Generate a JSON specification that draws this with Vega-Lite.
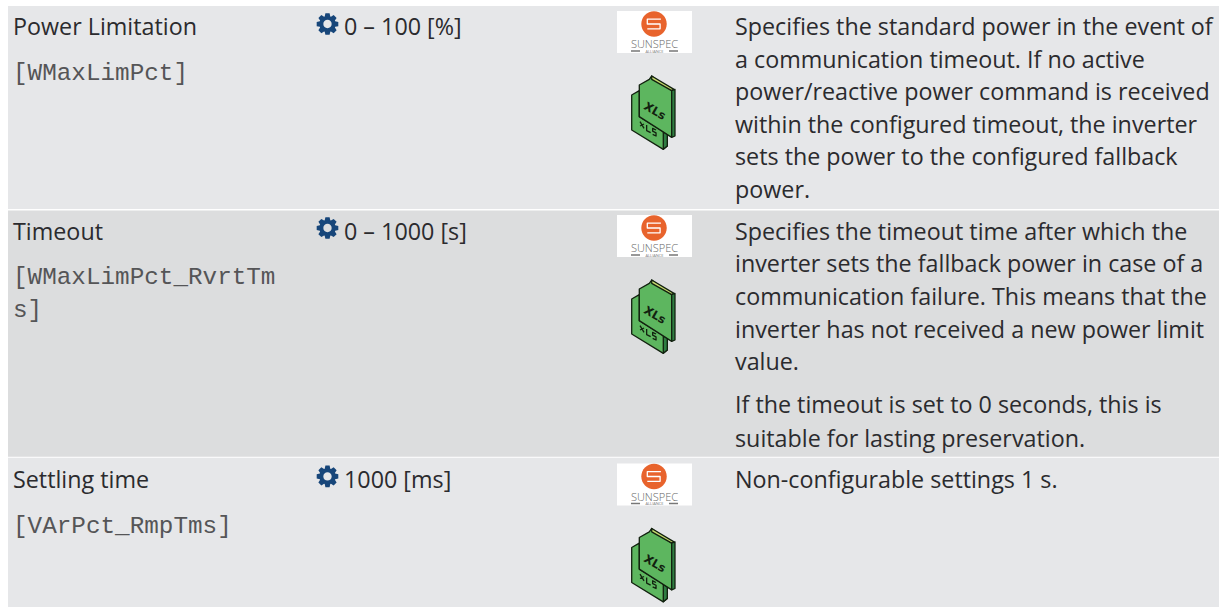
{
"$schema":"https://vega.github.io/schema/vega-lite/v6.json",
"width":1232,"height":607,"autosize":{"type":"fit","contains":"padding"},"padding":0,"background":"white",
"config":{"view":{"stroke":null}},
"datasets":{
"bands":[
{"from":0,"to":6,"top":-0.89,"bottom":5.34,"shade":"light"},
{"from":0,"to":6,"top":5.38,"bottom":12.94,"shade":"dark"},
{"from":0,"to":6,"top":12.97,"bottom":17.546,"shade":"light"}],
"gears":[{"column":2,"line":-0.337},{"column":2,"line":5.92},{"column":2,"line":13.54}],
"parts":[
{"line":1.38,"part":"logo_bg"},{"line":1.38,"part":"logo_circle"},{"line":1.38,"part":"logo_s"},{"line":1.38,"part":"logo_rule"},{"line":1.38,"part":"back"},{"line":1.38,"part":"back_side"},{"line":1.38,"part":"back_text"},{"line":1.38,"part":"front"},{"line":1.38,"part":"strip"},{"line":1.38,"part":"side"},
{"line":7.638,"part":"logo_bg"},{"line":7.638,"part":"logo_circle"},{"line":7.638,"part":"logo_s"},{"line":7.638,"part":"logo_rule"},{"line":7.638,"part":"back"},{"line":7.638,"part":"back_side"},{"line":7.638,"part":"back_text"},{"line":7.638,"part":"front"},{"line":7.638,"part":"strip"},{"line":7.638,"part":"side"},
{"line":15.26,"part":"logo_bg"},{"line":15.26,"part":"logo_circle"},{"line":15.26,"part":"logo_s"},{"line":15.26,"part":"logo_rule"},{"line":15.26,"part":"back"},{"line":15.26,"part":"back_side"},{"line":15.26,"part":"back_text"},{"line":15.26,"part":"front"},{"line":15.26,"part":"strip"},{"line":15.26,"part":"side"}],
"sans":[
{"column":1,"line":0,"text":"Power Limitation"},
{"column":3,"line":0,"text":"0 – 100 [%]"},
{"column":5,"line":0,"text":"Specifies the standard power in the event of"},
{"column":5,"line":1,"text":"a communication timeout. If no active"},
{"column":5,"line":2,"text":"power/reactive power command is received"},
{"column":5,"line":3,"text":"within the configured timeout, the inverter"},
{"column":5,"line":4,"text":"sets the power to the configured fallback"},
{"column":5,"line":5,"text":"power."},
{"column":1,"line":6.29,"text":"Timeout"},
{"column":3,"line":6.29,"text":"0 – 1000 [s]"},
{"column":5,"line":6.29,"text":"Specifies the timeout time after which the"},
{"column":5,"line":7.27,"text":"inverter sets the fallback power in case of a"},
{"column":5,"line":8.28,"text":"communication failure. This means that the"},
{"column":5,"line":9.29,"text":"inverter has not received a new power limit"},
{"column":5,"line":10.28,"text":"value."},
{"column":5,"line":11.6,"text":"If the timeout is set to 0 seconds, this is"},
{"column":5,"line":12.64,"text":"suitable for lasting preservation."},
{"column":1,"line":13.9,"text":"Settling time"},
{"column":3,"line":13.9,"text":"1000 [ms]"},
{"column":5,"line":13.9,"text":"Non-configurable settings 1 s."}],
"mono":[
{"column":1,"line":1.38,"text":"[WMaxLimPct]"},
{"column":1,"line":7.64,"text":"[WMaxLimPct_RvrtTm"},
{"column":1,"line":8.65,"text":"s]"},
{"column":1,"line":15.28,"text":"[VArPct_RmpTms]"}],
"brand":[{"line":0.41,"text":"SUNSPEC"},{"line":6.668,"text":"SUNSPEC"},{"line":14.29,"text":"SUNSPEC"}],
"alliance":[{"line":0.55,"text":"ALLIANCE"},{"line":6.808,"text":"ALLIANCE"},{"line":14.43,"text":"ALLIANCE"}],
"xls":[{"line":2.353,"text":"XLs"},{"line":8.611,"text":"XLs"},{"line":16.233,"text":"XLs"}]
},
"encoding":{},
"layer":[
{"data":{"name":"bands"},"mark":{"type":"rect"},
"encoding":{
"x":{"field":"from","type":"quantitative","axis":null,"scale":{"domain":[0,1,2,3,4,5,6],"range":[8,13,327.5,344,654.5,735,1219],"nice":false,"zero":false}},
"x2":{"field":"to"},
"y":{"field":"top","type":"quantitative","axis":null,"scale":{"domain":[-1.074,17.546],"range":[0,607],"nice":false,"zero":false}},
"y2":{"field":"bottom"},
"fill":{"field":"shade","type":"nominal","legend":null,"scale":{"domain":["light","dark","logo_bg","logo_circle","logo_s","logo_rule","back","back_side","back_text","front","strip","side"],
"range":["#e6e7e9","#dcddde","#ffffff","#e8632c","transparent","transparent","#5db65f","#2f7d42","transparent","#5db65f","#c6d96e","#2f7d42"]}}}},
{"data":{"name":"gears"},"mark":{"type":"point","filled":true,"opacity":1,"color":"#17467a","size":484,
"shape":"M.695 -.253L.982 -.191L.982 .191L.695 .253L.671 .313L.829 .559L.559 .829L.313 .671L.253 .695L.191 .982L-.191 .982L-.253 .695L-.313 .671L-.559 .829L-.829 .559L-.671 .313L-.695 .253L-.982 .191L-.982 -.191L-.695 -.253L-.671 -.313L-.829 -.559L-.559 -.829L-.313 -.671L-.253 -.695L-.191 -.982L.191 -.982L.253 -.695L.313 -.671L.559 -.829L.829 -.559L.671 -.313Z M.38 0A.38 .38 0 1 0 -.38 0A.38 .38 0 1 0 .38 0Z"},
"encoding":{"x":{"field":"column","type":"quantitative"},"y":{"field":"line","type":"quantitative"}}},
{"data":{"name":"parts"},"mark":{"type":"point","filled":true,"opacity":1,"size":25600,"strokeWidth":1.3,"strokeJoin":"round"},
"encoding":{
"x":{"datum":4,"type":"quantitative"},
"y":{"field":"line","type":"quantitative"},
"shape":{"field":"part","type":"nominal","legend":null,"scale":{
"domain":["logo_bg","logo_circle","logo_s","logo_rule","back","back_side","back_text","front","strip","side"],
"range":[
"M-0.469 -0.8625L0.469 -0.8625L0.469 -0.3375L-0.469 -0.3375Z",
"M-0.165 -0.7A0.159 0.159 0 1 1 0.153 -0.7A0.159 0.159 0 1 1 -0.165 -0.7Z",
"M0.08 -0.76L-0.09 -0.76L-0.09 -0.70L0.07 -0.70L0.07 -0.64L-0.09 -0.64",
"M-0.294 -0.3625L-0.181 -0.3625M0.181 -0.3625L0.294 -0.3625",
"M-0.285 0.1875L-0.19 0.133L-0.19 0.458L0.16 0.675L0.16 0.825L0.11 0.867L-0.285 0.625Z",
"M0.11 0.65L0.16 0.675L0.16 0.825L0.11 0.867Z",
"M-0.181 0.521L-0.131 0.604M-0.131 0.55L-0.181 0.575M-0.098 0.5625L-0.098 0.633L-0.048 0.658M0.019 0.625L-0.023 0.604L-0.023 0.64L0.019 0.66L0.019 0.70L-0.023 0.68",
"M-0.19 0.0625L-0.065 -0.008L-0.035 -0.05L0.215 0.133L0.215 0.717L-0.19 0.458Z",
"M-0.035 -0.05L0.244 0.117L0.215 0.133L-0.035 -0.008Z",
"M0.215 0.133L0.256 0.117L0.256 0.70L0.215 0.717Z"]}},
"fill":{"field":"part","type":"nominal","legend":null,"scale":{"domain":["light","dark","logo_bg","logo_circle","logo_s","logo_rule","back","back_side","back_text","front","strip","side"],
"range":["#e6e7e9","#dcddde","#ffffff","#e8632c","transparent","transparent","#5db65f","#2f7d42","transparent","#5db65f","#c6d96e","#2f7d42"]}},
"stroke":{"field":"part","type":"nominal","legend":null,"scale":{
"domain":["logo_bg","logo_circle","logo_s","logo_rule","back","back_side","back_text","front","strip","side"],
"range":["transparent","transparent","#ffffff","#777777","#12210f","#12210f","#12210f","#12210f","#12210f","#12210f"]}}}},
{"data":{"name":"xls"},"mark":{"type":"text","font":"DejaVu Sans","fontSize":11.5,"fontWeight":"bold","angle":30,"align":"center","baseline":"middle","color":"#12210f"},
"encoding":{"x":{"datum":4,"type":"quantitative"},"y":{"field":"line","type":"quantitative"},"text":{"field":"text"}}},
{"data":{"name":"brand"},"mark":{"type":"text","font":"Open Sans","fontSize":11,"fontWeight":300,"align":"center","baseline":"alphabetic","color":"#666666"},
"encoding":{"x":{"datum":4,"type":"quantitative"},"y":{"field":"line","type":"quantitative"},"text":{"field":"text"}}},
{"data":{"name":"alliance"},"mark":{"type":"text","font":"Open Sans","fontSize":4,"align":"center","baseline":"alphabetic","color":"#777777"},
"encoding":{"x":{"datum":4,"type":"quantitative"},"y":{"field":"line","type":"quantitative"},"text":{"field":"text"}}},
{"data":{"name":"sans"},"mark":{"type":"text","font":"Open Sans","fontSize":23.3,"align":"left","baseline":"alphabetic","color":"#2b2b2e"},
"encoding":{"x":{"field":"column","type":"quantitative"},"y":{"field":"line","type":"quantitative"},"text":{"field":"text"}}},
{"data":{"name":"mono"},"mark":{"type":"text","font":"Liberation Mono","fontSize":24.3,"align":"left","baseline":"alphabetic","color":"#555557"},
"encoding":{"x":{"field":"column","type":"quantitative"},"y":{"field":"line","type":"quantitative"},"text":{"field":"text"}}}
]
}
